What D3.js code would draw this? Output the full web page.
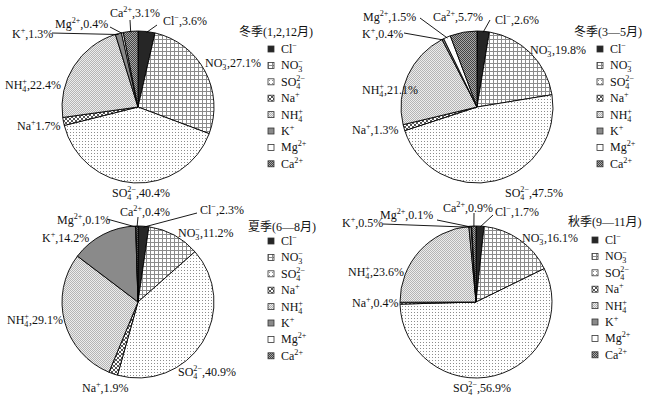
<!DOCTYPE html>
<html>
<head>
<meta charset="utf-8">
<script src="https://cdn.jsdelivr.net/npm/d3@7"></script>
<style>
  body { margin: 0; background: #fff; }
  svg { display: block; }
  text { font-family: "Liberation Serif", "Noto Sans CJK SC", serif; fill: #111; }
</style>
</head>
<body>
<div id="chart"></div>
<script>
// ions, in drawing order (clockwise from 12 o'clock)
var ionBase = ["Cl", "NO", "SO", "Na", "NH", "K", "Mg", "Ca"];
var ionSub  = ["", "3", "4", "", "4", "", "", ""];
var ionSup  = ["\u2212", "\u2212", "2\u2212", "+", "+", "+", "2+", "2+"];

// percentages per season
var winterVals = [3.6, 27.1, 40.4, 1.7, 22.4, 1.3, 0.4, 3.1];
var springVals = [2.6, 19.8, 47.5, 1.3, 21.1, 0.4, 1.5, 5.7];
var summerVals = [2.3, 11.2, 40.9, 1.9, 29.1, 14.2, 0.1, 0.4];
var autumnVals = [1.7, 16.1, 56.9, 0.4, 23.6, 0.5, 0.1, 0.9];

var titles = ["冬季(1,2,12月)", "冬季(3—5月)", "夏季(6—8月)", "秋季(9—11月)"];

var width = 645, height = 397;
var radius = 76;

var svg = d3.select("#chart").append("svg")
  .attr("width", width)
  .attr("height", height);

//patterns for the slices
var defs = svg.append("defs");
function pat(id, w, h) {
  return defs.append("pattern").attr("id", id)
    .attr("patternUnits", "userSpaceOnUse")
    .attr("width", w).attr("height", h);
}
var p;
p = pat("pNO3", 4, 4);
p.append("rect").attr("width", 4).attr("height", 4).attr("fill", "#fff");
p.append("path").attr("d", "M0 0.5H4M0.5 0V4").attr("stroke", "#8c8c8c").attr("stroke-width", 1);
p = pat("pSO4", 3, 3);
p.append("rect").attr("width", 3).attr("height", 3).attr("fill", "#fff");
p.append("rect").attr("x", 1).attr("y", 1).attr("width", 1).attr("height", 1).attr("fill", "#8c8c8c");
p = pat("pNa", 4, 4);
p.append("rect").attr("width", 4).attr("height", 4).attr("fill", "#fff");
p.append("path").attr("d", "M0 0L4 4M4 0L0 4").attr("stroke", "#555").attr("stroke-width", 1);
p = pat("pNH4", 2, 2);
p.append("rect").attr("width", 2).attr("height", 2).attr("fill", "#ececec");
p.append("rect").attr("width", 1).attr("height", 1).attr("fill", "#b4b4b4");
p.append("rect").attr("x", 1).attr("y", 1).attr("width", 1).attr("height", 1).attr("fill", "#b4b4b4");
p = pat("pCa", 2, 2);
p.append("rect").attr("width", 2).attr("height", 2).attr("fill", "#a8a8a8");
p.append("rect").attr("width", 1).attr("height", 1).attr("fill", "#444");
p.append("rect").attr("x", 1).attr("y", 1).attr("width", 1).attr("height", 1).attr("fill", "#444");

var fills = ["#262626", "url(#pNO3)", "url(#pSO4)", "url(#pNa)", "url(#pNH4)", "#8a8a8a", "#fff", "url(#pCa)"];

// layout of each panel: pie centre, label baselines, leader line starts, legend
var panels = [
  {vals: winterVals, cx: 138, cy: 107,
   labels: [[25,-82],[67,-40],[-26,90],[-121,23],[-133,-18],[-126,-69],[-83,-79],[-28,-90]],
   seps: [",", ",", ",", "", ",", ",", ",", ","],
   lines: {0: [19,-82], 5: [-86,-74], 6: [-28,-80], 7: [-8,-87]},
   titleX: 239, titleY: 36, legX: 268, legY: 49},
  {vals: springVals, cx: 477, cy: 107,
   labels: [[18,-83],[53,-53],[28,90],[-125,27],[-115,-13],[-115,-69],[-114,-86],[-44,-86]],
   seps: [",", ",", ",", ",", ",", ",", ",", ","],
   lines: {0: [13,-87], 5: [-73,-74], 6: [-57,-89]},
   titleX: 574, titleY: 36, legX: 597, legY: 49},
  {vals: summerVals, cx: 138, cy: 302,
   labels: [[62,-88],[40,-65],[40,74],[-56,90],[-131,22],[-96,-60],[-81,-78],[-18,-86]],
   seps: [",", ",", ",", ",", ",", ",", ",", ","],
   lines: {0: [59,-89], 6: [-31,-83], 7: [0,-85]},
   titleX: 248, titleY: 231, legX: 268, legY: 241},
  {vals: autumnVals, cx: 476, cy: 302,
   labels: [[19,-86],[46,-60],[-23,90],[-124,5],[-128,-26],[-134,-75],[-96,-83],[-33,-90]],
   seps: [",", ",", ",", ",", ",", ",", ",", ","],
   lines: {0: [17,-87], 5: [-93,-78], 6: [-39,-82], 7: [-2,-89]},
   titleX: 568, titleY: 226, legX: 592, legY: 240}
];

var pie = d3.pie().sort(null).value(d => d);
var arc = d3.arc().innerRadius(0).outerRadius(radius);

// writes an ion formula into a text element, returns the baseline shift left over
function writeIon(t, i, fs) {
  var small = fs * 0.68;
  var off = 0;
  t.append("tspan").text(ionBase[i]);
  if (ionSub[i]) {
    t.append("tspan").attr("font-size", small).attr("dy", 3).text(ionSub[i]);
    off = 3;
  }
  if (ionSup[i]) {
    var s = t.append("tspan").attr("font-size", small).attr("dy", -off - 5).text(ionSup[i]);
    if (ionSub[i]) s.attr("dx", -small * 0.5 * ionSub[i].length);
    off = -5;
  }
  return off;
}

panels.forEach(function(pn, k) {
  var g = svg.append("g").attr("transform", "translate(" + pn.cx + "," + pn.cy + ")");
  var arcs = pie(pn.vals);

  g.selectAll("path.slice").data(arcs).enter().append("path")
    .attr("class", "slice")
    .attr("d", arc)
    .attr("fill", (d, i) => fills[i])
    .attr("stroke", "#000")
    .attr("stroke-width", 0.9)
    .attr("stroke-linejoin", "round");

  //leader lines
  Object.keys(pn.lines).forEach(function(j) {
    var a = arcs[j];
    var mid = (a.startAngle + a.endAngle) / 2;
    var r = radius - 1;
    g.append("line")
      .attr("x1", pn.lines[j][0]).attr("y1", pn.lines[j][1])
      .attr("x2", Math.sin(mid) * r).attr("y2", -Math.cos(mid) * r)
      .attr("stroke", "#000").attr("stroke-width", 0.9);
  });

  //value labels
  arcs.forEach(function(a, i) {
    var t = g.append("text")
      .attr("x", pn.labels[i][0]).attr("y", pn.labels[i][1])
      .attr("font-size", 12);
    var off = writeIon(t, i, 12);
    t.append("tspan").attr("dy", -off).text(pn.seps[i] + a.data.toFixed(1) + "%");
  });

  //legend
  svg.append("text")
    .attr("x", pn.titleX).attr("y", pn.titleY)
    .attr("font-size", 12)
    .text(titles[k]);

  var leg = svg.append("g").attr("transform", "translate(" + pn.legX + "," + pn.legY + ")");
  ionBase.forEach(function(b, i) {
    var y = i * 16.4;
    leg.append("rect")
      .attr("x", 0).attr("y", y - 3)
      .attr("width", 6).attr("height", 6)
      .attr("fill", fills[i])
      .attr("stroke", "#333").attr("stroke-width", 0.8);
    var t = leg.append("text").attr("x", 13).attr("y", y + 4).attr("font-size", 12);
    writeIon(t, i, 12);
  });
});
</script>
</body>
</html>
